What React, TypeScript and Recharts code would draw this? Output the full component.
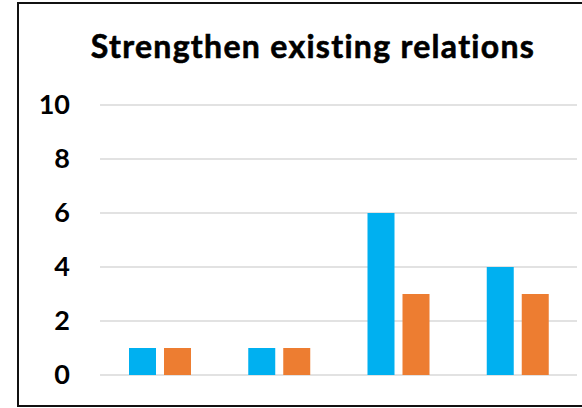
import React from "react";
import { BarChart, Bar, XAxis, YAxis, CartesianGrid } from "recharts";

const categories = ["1", "2", "3", "4"];
const seriesA = [1, 1, 6, 4];
const seriesB = [1, 1, 3, 3];
const yTicks = [0, 2, 4, 6, 8, 10];

const data = categories.map((name, i) => ({
  name,
  a: seriesA[i],
  b: seriesB[i],
}));

const FONT = "Lato, 'Open Sans', sans-serif";

const YTick = (props: any) => {
  const { x, y, payload } = props;
  return (
    <text
      x={x - 22}
      y={y}
      dy={9}
      textAnchor="end"
      fontFamily={FONT}
      fontWeight={700}
      fontSize={27}
      fill="#000"
    >
      {payload.value}
    </text>
  );
};

export default function App() {
  return (
    <div
      style={{
        position: "absolute",
        left: 0,
        top: 0,
        width: 582,
        height: 408,
        overflow: "hidden",
        background: "#fff",
      }}
    >
      <div
        style={{
          position: "absolute",
          left: 17,
          top: 2,
          width: 640,
          height: 405,
          boxSizing: "border-box",
          border: "2px solid #111",
        }}
      />
      <div
        style={{
          position: "absolute",
          left: 0,
          top: 26,
          width: 626,
          textAlign: "center",
          fontFamily: FONT,
          fontWeight: 700,
          fontSize: 32,
          letterSpacing: "1.3px",
          lineHeight: "40px",
          color: "#000",
          WebkitTextStroke: "0.6px #000",
        }}
      >
        Strengthen existing relations
      </div>
      <div style={{ position: "absolute", left: 0, top: 0 }}>
        <BarChart
          width={582}
          height={408}
          data={data}
          margin={{ top: 105, right: 5, bottom: 33, left: 0 }}
          barSize={27}
          barGap={8}
        >
          <CartesianGrid vertical={false} stroke="#d9d9d9" strokeWidth={1.5} />
          <XAxis dataKey="name" hide />
          <YAxis
            width={100}
            domain={[0, 10]}
            ticks={yTicks}
            axisLine={false}
            tickLine={false}
            tick={<YTick />}
            interval={0}
          />
          <Bar dataKey="a" name="Series 1" fill="#00B0F0" isAnimationActive={false} />
          <Bar dataKey="b" name="Series 2" fill="#ED7D31" isAnimationActive={false} />
        </BarChart>
      </div>
    </div>
  );
}
